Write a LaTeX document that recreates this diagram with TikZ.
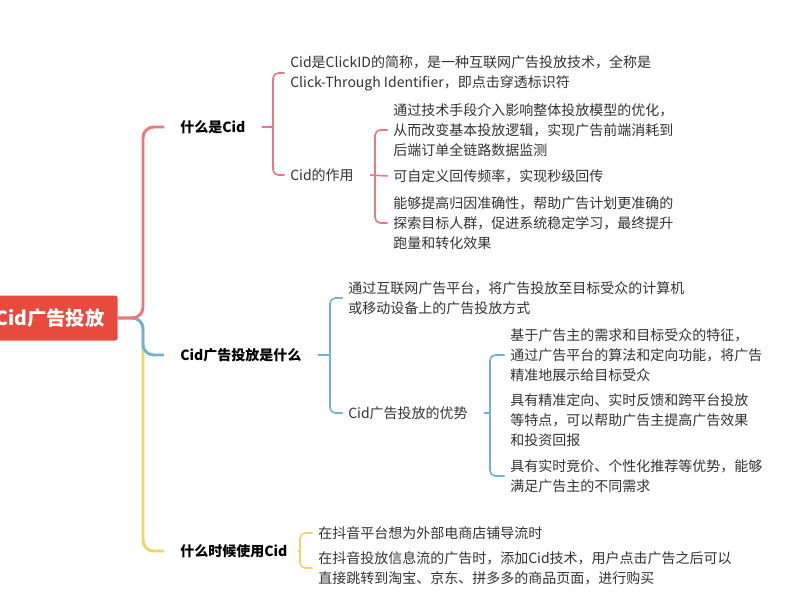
\documentclass[tikz,border=0pt]{standalone}
\usepackage{fontspec}
\setmainfont{Noto Sans CJK SC}
\begin{document}
\definecolor{cred}{HTML}{E8797C}
\definecolor{croot}{HTML}{E84B3E}
\definecolor{cblue}{HTML}{6FB3D2}
\definecolor{cyel}{HTML}{F0D36A}
\definecolor{ctxt}{HTML}{333333}
\begin{tikzpicture}[x=0.75pt,y=-0.75pt,
  lv1/.style={anchor=west,inner sep=0pt,font=\fontsize{10.5}{15}\selectfont\bfseries,text=black},
  lv2/.style={anchor=west,inner sep=0pt,align=left,font=\fontsize{10.5}{15}\selectfont,text=ctxt},
  br/.style={line width=1.2pt,rounded corners=4pt},
  trunk/.style={line width=2.2pt,rounded corners=8pt}]
\useasboundingbox (0,0) rectangle (800,600);
\fill[white] (0,0) rectangle (800,600);
\node[fill=croot,rounded corners=2pt,text=white,font=\fontsize{14.5}{16}\selectfont\bfseries,anchor=east,inner xsep=10pt,minimum height=33.75pt] (root) at (118,318) {Cid广告投放};
% level 1
\node[lv1] (a) at (180,127) {什么是Cid};
\node[lv1] (b) at (180,355) {Cid广告投放是什么};
\node[lv1] (c) at (180,551) {什么时候使用Cid};
\draw[trunk,cyel] (root.east) -- ++(25,0) |- ([xshift=-12pt]c.west);
\draw[trunk,cblue] (root.east) -- ++(25,0) |- ([xshift=-12pt]b.west);
\draw[trunk,cred] (root.east) -- ++(25,0) |- ([xshift=-12pt]a.west);
% red subtree
\node[lv2] (a1) at (290,73) {Cid是ClickID的简称，是一种互联网广告投放技术，全称是\\Click-Through Identifier，即点击穿透标识符};
\node[lv2] (a2) at (290,175) {Cid的作用};
\coordinate (ja) at (273,127);
\draw[br,cred] ([xshift=-4pt]a1.west) -| (ja) |- ([xshift=-4pt]a2.west);
\draw[br,cred] ([xshift=12pt]a.east) -- (ja);
\node[lv2] (a21) at (393,130) {通过技术手段介入影响整体投放模型的优化，\\从而改变基本投放逻辑，实现广告前端消耗到\\后端订单全链路数据监测};
\node[lv2] (a22) at (393,176) {可自定义回传频率，实现秒级回传};
\node[lv2] (a23) at (393,223) {能够提高归因准确性，帮助广告计划更准确的\\探索目标人群，促进系统稳定学习，最终提升\\跑量和转化效果};
\coordinate (ja2) at (375,176);
\draw[br,cred] ([xshift=-4pt]a21.west) -| (ja2) |- ([xshift=-4pt]a23.west);
\draw[br,cred] ([xshift=12pt]a2.east) -- ([xshift=-4pt]a22.west);
% blue subtree
\node[lv2] (b1) at (348,298) {通过互联网广告平台，将广告投放至目标受众的计算机\\或移动设备上的广告投放方式};
\node[lv2] (b2) at (348,413) {Cid广告投放的优势};
\coordinate (jb) at (330,355);
\draw[br,cblue] ([xshift=-4pt]b1.west) -| (jb) |- ([xshift=-4pt]b2.west);
\draw[br,cblue] ([xshift=12pt]b.east) -- (jb);
\node[lv2] (b21) at (510,355) {基于广告主的需求和目标受众的特征，\\通过广告平台的算法和定向功能，将广告\\精准地展示给目标受众};
\node[lv2] (b22) at (510,420) {具有精准定向、实时反馈和跨平台投放\\等特点，可以帮助广告主提高广告效果\\和投资回报};
\node[lv2] (b23) at (510,476) {具有实时竞价、个性化推荐等优势，能够\\满足广告主的不同需求};
\coordinate (jb2) at (490,413);
\draw[br,cblue] ([xshift=-4pt]b21.west) -| (jb2) |- ([xshift=-4pt]b23.west);
\draw[br,cblue] ([xshift=12pt]b2.east) -- (jb2);
% yellow subtree
\node[lv2] (c1) at (318,533) {在抖音平台想为外部电商店铺导流时};
\node[lv2] (c2) at (318,568) {在抖音投放信息流的广告时，添加Cid技术，用户点击广告之后可以\\直接跳转到淘宝、京东、拼多多的商品页面，进行购买};
\coordinate (jc) at (300,551);
\draw[br,cyel] ([xshift=-4pt]c1.west) -| (jc) |- ([xshift=-4pt]c2.west);
\draw[br,cyel] ([xshift=8pt]c.east) -- (jc);
\end{tikzpicture}
\end{document}
